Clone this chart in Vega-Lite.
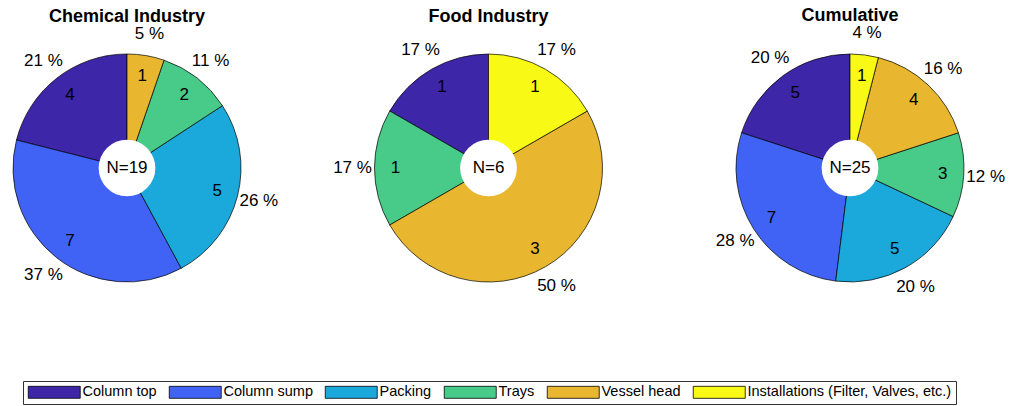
{
  "$schema": "https://vega.github.io/schema/vega-lite/v6.json",
  "autosize": {"type": "pad"},
  "padding": {"left": 0, "top": 7, "right": 0, "bottom": 0},
  "background": "white",
  "bounds": "flush",
  "config": {
    "font": "Liberation Sans",
    "view": {"stroke": null},
    "title": {"fontSize": 18, "fontWeight": "bold", "color": "black", "anchor": "middle", "baseline": "alphabetic", "frame": "group"},
    "legend": {"strokeWidth": 1}
  },
  "spacing": 107.5,
  "hconcat": [
    {
      "title": {"text": "Chemical Industry", "offset": -1},
      "width": 254,
      "height": 252,
      "data": {"values": [
        {"part": "Column top", "rank": 1, "count": 4, "pct": "21 %"},
        {"part": "Column sump", "rank": 2, "count": 7, "pct": "37 %"},
        {"part": "Packing", "rank": 3, "count": 5, "pct": "26 %"},
        {"part": "Trays", "rank": 4, "count": 2, "pct": "11 %"},
        {"part": "Vessel head", "rank": 5, "count": 1, "pct": "5 %"}
      ]},
      "encoding": {
        "theta": {"field": "count", "type": "quantitative", "stack": true},
        "order": {"field": "rank", "type": "quantitative", "sort": "descending"}
      },
      "layer": [
        {"mark": {"type": "arc", "outerRadius": 114, "stroke": "black", "strokeWidth": 0.7},
         "encoding": {"color": {"field": "part", "type": "nominal",
           "scale": {"domain": ["Column top", "Column sump", "Packing", "Trays", "Vessel head", "Installations (Filter, Valves, etc.)"],
                     "range": ["#3d26a8", "#4163f5", "#1ba9dc", "#48ca88", "#e8b72f", "#f8f915"]},
           "legend": {"orient": "none", "legendX": 23, "legendY": 339, "direction": "horizontal", "columns": 6, "title": null,
             "symbolType": "M-4.333,-1H4.333V1H-4.333Z", "symbolSize": 144, "symbolOffset": 20, "labelOffset": 21,
             "symbolStrokeColor": "black", "symbolStrokeWidth": 0.8, "symbolOpacity": 1,
             "labelFontSize": 14.5, "labelFont": "Liberation Sans", "labelColor": "black", "labelLimit": 400,
             "columnPadding": 10, "padding": 4, "strokeColor": "#333333", "fillColor": "white"}}}},
        {"mark": {"type": "text", "radius": 93, "fontSize": 17, "color": "black"},
         "encoding": {"text": {"field": "count", "type": "quantitative"}}},
        {"mark": {"type": "text", "radius": 136, "fontSize": 17, "color": "black"},
         "encoding": {"text": {"field": "pct", "type": "nominal"}}},
        {"transform": [{"aggregate": [{"op": "sum", "field": "count", "as": "total"}]}],
         "mark": {"type": "circle", "size": 3217, "color": "white", "opacity": 1},
         "encoding": {"theta": null, "order": null}},
        {"transform": [{"aggregate": [{"op": "sum", "field": "count", "as": "total"}]}],
         "mark": {"type": "text", "text": "N=19", "fontSize": 17, "color": "black"},
         "encoding": {"theta": null, "order": null}}
      ]
    },
    {
      "title": {"text": "Food Industry", "offset": 15},
      "width": 254,
      "height": 252,
      "data": {"values": [
        {"part": "Column top", "rank": 1, "count": 1, "pct": "17 %"},
        {"part": "Trays", "rank": 4, "count": 1, "pct": "17 %"},
        {"part": "Vessel head", "rank": 5, "count": 3, "pct": "50 %"},
        {"part": "Installations (Filter, Valves, etc.)", "rank": 6, "count": 1, "pct": "17 %"}
      ]},
      "encoding": {
        "theta": {"field": "count", "type": "quantitative", "stack": true},
        "order": {"field": "rank", "type": "quantitative", "sort": "descending"}
      },
      "layer": [
        {"mark": {"type": "arc", "outerRadius": 114, "stroke": "black", "strokeWidth": 0.7},
         "encoding": {"color": {"field": "part", "type": "nominal"}}},
        {"mark": {"type": "text", "radius": 93, "fontSize": 17, "color": "black"},
         "encoding": {"text": {"field": "count", "type": "quantitative"}}},
        {"mark": {"type": "text", "radius": 136, "fontSize": 17, "color": "black"},
         "encoding": {"text": {"field": "pct", "type": "nominal"}}},
        {"transform": [{"aggregate": [{"op": "sum", "field": "count", "as": "total"}]}],
         "mark": {"type": "circle", "size": 3217, "color": "white", "opacity": 1},
         "encoding": {"theta": null, "order": null}},
        {"transform": [{"aggregate": [{"op": "sum", "field": "count", "as": "total"}]}],
         "mark": {"type": "text", "text": "N=6", "fontSize": 17, "color": "black"},
         "encoding": {"theta": null, "order": null}}
      ]
    },
    {
      "title": {"text": "Cumulative", "offset": -1},
      "width": 254,
      "height": 252,
      "data": {"values": [
        {"part": "Column top", "rank": 1, "count": 5, "pct": "20 %"},
        {"part": "Column sump", "rank": 2, "count": 7, "pct": "28 %"},
        {"part": "Packing", "rank": 3, "count": 5, "pct": "20 %"},
        {"part": "Trays", "rank": 4, "count": 3, "pct": "12 %"},
        {"part": "Vessel head", "rank": 5, "count": 4, "pct": "16 %"},
        {"part": "Installations (Filter, Valves, etc.)", "rank": 6, "count": 1, "pct": "4 %"}
      ]},
      "encoding": {
        "theta": {"field": "count", "type": "quantitative", "stack": true},
        "order": {"field": "rank", "type": "quantitative", "sort": "descending"}
      },
      "layer": [
        {"mark": {"type": "arc", "outerRadius": 114, "stroke": "black", "strokeWidth": 0.7},
         "encoding": {"color": {"field": "part", "type": "nominal"}}},
        {"mark": {"type": "text", "radius": 93, "fontSize": 17, "color": "black"},
         "encoding": {"text": {"field": "count", "type": "quantitative"}}},
        {"mark": {"type": "text", "radius": 136, "fontSize": 17, "color": "black"},
         "encoding": {"text": {"field": "pct", "type": "nominal"}}},
        {"transform": [{"aggregate": [{"op": "sum", "field": "count", "as": "total"}]}],
         "mark": {"type": "circle", "size": 3217, "color": "white", "opacity": 1},
         "encoding": {"theta": null, "order": null}},
        {"transform": [{"aggregate": [{"op": "sum", "field": "count", "as": "total"}]}],
         "mark": {"type": "text", "text": "N=25", "fontSize": 17, "color": "black"},
         "encoding": {"theta": null, "order": null}}
      ]
    }
  ]
}
